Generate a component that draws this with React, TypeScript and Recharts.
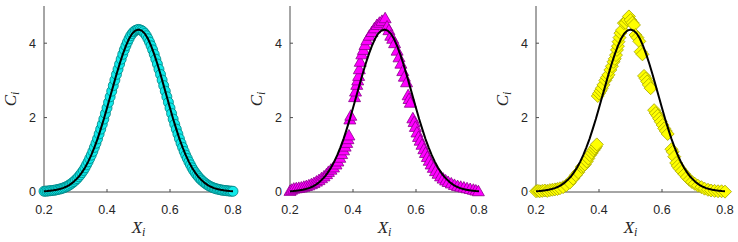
import { ComposedChart, Scatter, XAxis, YAxis, Label } from "recharts"

// shared fit curve, x = 0.20 .. 0.80 in steps of 0.01
const xGrid = [
  0.2, 0.21, 0.22, 0.23, 0.24, 0.25, 0.26, 0.27, 0.28, 0.29,
  0.3, 0.31, 0.32, 0.33, 0.34, 0.35, 0.36, 0.37, 0.38, 0.39,
  0.4, 0.41, 0.42, 0.43, 0.44, 0.45, 0.46, 0.47, 0.48, 0.49,
  0.5, 0.51, 0.52, 0.53, 0.54, 0.55, 0.56, 0.57, 0.58, 0.59,
  0.6, 0.61, 0.62, 0.63, 0.64, 0.65, 0.66, 0.67, 0.68, 0.69,
  0.7, 0.71, 0.72, 0.73, 0.74, 0.75, 0.76, 0.77, 0.78, 0.79, 0.8,
]
const fitC = [
  0.02, 0.025, 0.035, 0.045, 0.06, 0.08, 0.105, 0.14, 0.185, 0.245,
  0.32, 0.41, 0.52, 0.65, 0.81, 0.99, 1.2, 1.43, 1.69, 1.96,
  2.26, 2.56, 2.86, 3.16, 3.44, 3.7, 3.93, 4.12, 4.26, 4.34,
  4.37, 4.34, 4.26, 4.12, 3.93, 3.7, 3.44, 3.16, 2.86, 2.56,
  2.26, 1.96, 1.69, 1.43, 1.2, 0.99, 0.81, 0.65, 0.52, 0.41,
  0.32, 0.245, 0.185, 0.14, 0.105, 0.08, 0.06, 0.045, 0.035, 0.025, 0.02,
]

// panel 1: dense markers lying on the fit, x = 0.200 .. 0.800 step 0.005
const cyanX = [
  0.2, 0.205, 0.21, 0.215, 0.22, 0.225, 0.23, 0.235, 0.24, 0.245,
  0.25, 0.255, 0.26, 0.265, 0.27, 0.275, 0.28, 0.285, 0.29, 0.295,
  0.3, 0.305, 0.31, 0.315, 0.32, 0.325, 0.33, 0.335, 0.34, 0.345,
  0.35, 0.355, 0.36, 0.365, 0.37, 0.375, 0.38, 0.385, 0.39, 0.395,
  0.4, 0.405, 0.41, 0.415, 0.42, 0.425, 0.43, 0.435, 0.44, 0.445,
  0.45, 0.455, 0.46, 0.465, 0.47, 0.475, 0.48, 0.485, 0.49, 0.495,
  0.5, 0.505, 0.51, 0.515, 0.52, 0.525, 0.53, 0.535, 0.54, 0.545,
  0.55, 0.555, 0.56, 0.565, 0.57, 0.575, 0.58, 0.585, 0.59, 0.595,
  0.6, 0.605, 0.61, 0.615, 0.62, 0.625, 0.63, 0.635, 0.64, 0.645,
  0.65, 0.655, 0.66, 0.665, 0.67, 0.675, 0.68, 0.685, 0.69, 0.695,
  0.7, 0.705, 0.71, 0.715, 0.72, 0.725, 0.73, 0.735, 0.74, 0.745,
  0.75, 0.755, 0.76, 0.765, 0.77, 0.775, 0.78, 0.785, 0.79, 0.795, 0.8,
]
const cyanC = [
  0.02, 0.022, 0.025, 0.03, 0.035, 0.04, 0.045, 0.05, 0.06, 0.07,
  0.08, 0.09, 0.105, 0.12, 0.14, 0.16, 0.185, 0.215, 0.245, 0.28,
  0.32, 0.36, 0.41, 0.46, 0.52, 0.58, 0.65, 0.73, 0.81, 0.9,
  0.99, 1.09, 1.2, 1.31, 1.43, 1.56, 1.69, 1.82, 1.96, 2.11,
  2.26, 2.41, 2.56, 2.71, 2.86, 3.01, 3.16, 3.3, 3.44, 3.57,
  3.7, 3.82, 3.93, 4.03, 4.12, 4.2, 4.26, 4.31, 4.34, 4.36,
  4.37, 4.36, 4.34, 4.31, 4.26, 4.2, 4.12, 4.03, 3.93, 3.82,
  3.7, 3.57, 3.44, 3.3, 3.16, 3.01, 2.86, 2.71, 2.56, 2.41,
  2.26, 2.11, 1.96, 1.82, 1.69, 1.56, 1.43, 1.31, 1.2, 1.09,
  0.99, 0.9, 0.81, 0.73, 0.65, 0.58, 0.52, 0.46, 0.41, 0.36,
  0.32, 0.28, 0.245, 0.215, 0.185, 0.16, 0.14, 0.12, 0.105, 0.09,
  0.08, 0.07, 0.06, 0.05, 0.045, 0.04, 0.035, 0.03, 0.025, 0.022, 0.02,
]

const magentaPts: [number, number][] = [
  [0.2, 0.03], [0.205, 0.06], [0.212, 0.09], [0.22, 0.1], [0.228, 0.11], [0.236, 0.12],
  [0.244, 0.14], [0.252, 0.16], [0.26, 0.18], [0.268, 0.21], [0.276, 0.24], [0.284, 0.28],
  [0.292, 0.32], [0.3, 0.37], [0.308, 0.42], [0.316, 0.48], [0.322, 0.54], [0.33, 0.6],
  [0.338, 0.66], [0.346, 0.74], [0.352, 0.82], [0.358, 0.92], [0.364, 1.02], [0.37, 1.12],
  [0.375, 1.22], [0.38, 1.32], [0.384, 1.42], [0.387, 1.52], [0.39, 1.95], [0.393, 2.05],
  [0.405, 2.55], [0.408, 2.7], [0.412, 2.88], [0.415, 3.0], [0.418, 3.12], [0.42, 3.3],
  [0.423, 3.5], [0.428, 3.7], [0.433, 3.82], [0.438, 3.95], [0.444, 4.08], [0.452, 4.2],
  [0.46, 4.3], [0.468, 4.4], [0.476, 4.49], [0.484, 4.55], [0.492, 4.6], [0.502, 4.67],
  [0.508, 4.45], [0.514, 4.35], [0.52, 4.2], [0.526, 4.12], [0.532, 4.0], [0.54, 3.8],
  [0.546, 3.62], [0.552, 3.45], [0.558, 3.25], [0.563, 3.1], [0.57, 2.95], [0.575, 2.6],
  [0.578, 2.5], [0.582, 2.4], [0.59, 1.98], [0.594, 1.88], [0.598, 1.75], [0.603, 1.6],
  [0.608, 1.48], [0.613, 1.38], [0.619, 1.27], [0.625, 1.15], [0.63, 1.05], [0.636, 0.94],
  [0.642, 0.84], [0.648, 0.74], [0.655, 0.65], [0.662, 0.56], [0.67, 0.49], [0.678, 0.42],
  [0.686, 0.36], [0.694, 0.31], [0.702, 0.27], [0.712, 0.23], [0.722, 0.19], [0.732, 0.16],
  [0.742, 0.14], [0.752, 0.12], [0.762, 0.1], [0.772, 0.08], [0.782, 0.06], [0.79, 0.04],
  [0.798, 0.02],
]

const yellowPts: [number, number][] = [
  [0.2, 0.02], [0.206, 0.03], [0.212, 0.02], [0.22, 0.03], [0.228, 0.04], [0.236, 0.03],
  [0.244, 0.05], [0.252, 0.06], [0.26, 0.07], [0.268, 0.08], [0.276, 0.1], [0.286, 0.13],
  [0.296, 0.18], [0.307, 0.25], [0.318, 0.36], [0.326, 0.45], [0.334, 0.53], [0.345, 0.67],
  [0.35, 0.7], [0.355, 0.74], [0.361, 0.82], [0.366, 0.9], [0.371, 0.99], [0.377, 1.05],
  [0.382, 1.12], [0.386, 1.17], [0.39, 1.22], [0.393, 1.28],
  [0.396, 2.58], [0.4, 2.65], [0.405, 2.72], [0.409, 2.79], [0.414, 2.88], [0.42, 3.0],
  [0.425, 3.08], [0.43, 3.15], [0.436, 3.28], [0.441, 3.38], [0.446, 3.5], [0.45, 3.58],
  [0.454, 3.68], [0.457, 3.82], [0.46, 3.92], [0.462, 4.04], [0.465, 4.15], [0.468, 4.27],
  [0.473, 4.35], [0.479, 4.54], [0.484, 4.55], [0.49, 4.62], [0.495, 4.72], [0.5, 4.62],
  [0.506, 4.55], [0.511, 4.49],
  [0.516, 4.22], [0.522, 4.15], [0.528, 4.05], [0.532, 3.77], [0.538, 3.7], [0.543, 3.12],
  [0.548, 3.05], [0.553, 2.97], [0.558, 2.88], [0.564, 2.79], [0.575, 2.2], [0.58, 2.12],
  [0.586, 2.05], [0.591, 1.97], [0.596, 1.89], [0.602, 1.8], [0.607, 1.71], [0.612, 1.64],
  [0.618, 1.56], [0.63, 1.15], [0.634, 1.08], [0.639, 0.95], [0.645, 0.78], [0.65, 0.7],
  [0.656, 0.63], [0.663, 0.56], [0.671, 0.48], [0.679, 0.4], [0.687, 0.33], [0.695, 0.27],
  [0.704, 0.22], [0.714, 0.17], [0.725, 0.13], [0.735, 0.09], [0.746, 0.06], [0.756, 0.04],
  [0.767, 0.03], [0.778, 0.02], [0.789, 0.02], [0.8, 0.01],
]

const xTicks = [0.2, 0.4, 0.6, 0.8]
const yTicks = [0, 2, 4]

const fitData = xGrid.map((x, i) => ({ x, c: fitC[i] }))
const cyanData = cyanX.map((x, i) => ({ x, c: cyanC[i] }))
const magentaData = magentaPts.map(([x, c]) => ({ x, c }))
const yellowData = yellowPts.map(([x, c]) => ({ x, c }))

const axisColor = "#4d4d4d"
const tickFont = { fontSize: 12.5, fill: "#262626", fontFamily: "Liberation Sans, Arial, sans-serif" }

const Circle = (p: any) => (
  <circle cx={p.cx} cy={p.cy} r={5} fill="#10eaea" stroke="#007f7f" strokeWidth={0.8} />
)
const Triangle = (p: any) => (
  <polygon
    points={`${p.cx},${p.cy - 6} ${p.cx - 6},${p.cy + 4.5} ${p.cx + 6},${p.cy + 4.5}`}
    fill="#ff00ff"
    stroke="#8a008a"
    strokeWidth={0.8}
  />
)
const Diamond = (p: any) => (
  <polygon
    points={`${p.cx},${p.cy - 6.5} ${p.cx + 6.5},${p.cy} ${p.cx},${p.cy + 6.5} ${p.cx - 6.5},${p.cy}`}
    fill="#ffff00"
    stroke="#a3a300"
    strokeWidth={0.8}
  />
)
const NoDot = () => <g />

const XLabel = ({ viewBox }: any) => (
  <text
    x={viewBox.x + viewBox.width / 2}
    y={viewBox.y + 41}
    textAnchor="middle"
    fontFamily="Liberation Serif, serif"
    fontStyle="italic"
    fontSize={17}
    fill="#262626"
  >
    X<tspan fontSize={12} dy={3}>i</tspan>
  </text>
)

const YLabel = ({ viewBox }: any) => {
  const cx = 15.5
  const cy = viewBox.y + viewBox.height / 2
  return (
    <text
      x={cx}
      y={cy}
      transform={`rotate(-90, ${cx}, ${cy})`}
      textAnchor="middle"
      fontFamily="Liberation Serif, serif"
      fontStyle="italic"
      fontSize={17}
      fill="#262626"
    >
      C<tspan fontSize={12} dy={3}>i</tspan>
    </text>
  )
}

function Panel({ data, shape }: { data: { x: number; c: number }[]; shape: any }) {
  return (
    <ComposedChart width={246} height={242} margin={{ top: 6, right: 13, bottom: 0, left: 0 }}>
      <XAxis
        xAxisId="b"
        type="number"
        dataKey="x"
        domain={[0.2, 0.8]}
        ticks={xTicks}
        height={50}
        tickSize={-3}
        tickMargin={16}
        tick={tickFont}
        stroke={axisColor}
      >
        <Label content={<XLabel />} />
      </XAxis>
      <XAxis
        xAxisId="t"
        orientation="top"
        type="number"
        dataKey="x"
        domain={[0.2, 0.8]}
        ticks={xTicks}
        height={0}
        tickSize={-3}
        tick={false}
        stroke={axisColor}
      />
      <YAxis
        yAxisId="l"
        type="number"
        dataKey="c"
        domain={[0, 5]}
        ticks={yTicks}
        width={44}
        tickSize={-3}
        tickMargin={11}
        tick={tickFont}
        stroke={axisColor}
      >
        <Label content={<YLabel />} />
      </YAxis>
      <YAxis
        yAxisId="r"
        orientation="right"
        type="number"
        dataKey="c"
        domain={[0, 5]}
        ticks={yTicks}
        width={0}
        tickSize={-3}
        tick={false}
        stroke={axisColor}
      />
      <Scatter xAxisId="b" yAxisId="l" data={data} dataKey="c" shape={shape} isAnimationActive={false} />
      <Scatter
        xAxisId="b"
        yAxisId="l"
        data={fitData}
        dataKey="c"
        shape={NoDot}
        line={{ stroke: "#000", strokeWidth: 2 }}
        lineType="joint"
        isAnimationActive={false}
      />
    </ComposedChart>
  )
}

export default function App() {
  return (
    <div style={{ position: "absolute", left: 0, top: 0, width: 738, height: 242, background: "#fff", display: "flex" }}>
      <Panel data={cyanData} shape={Circle} />
      <Panel data={magentaData} shape={Triangle} />
      <Panel data={yellowData} shape={Diamond} />
    </div>
  )
}
